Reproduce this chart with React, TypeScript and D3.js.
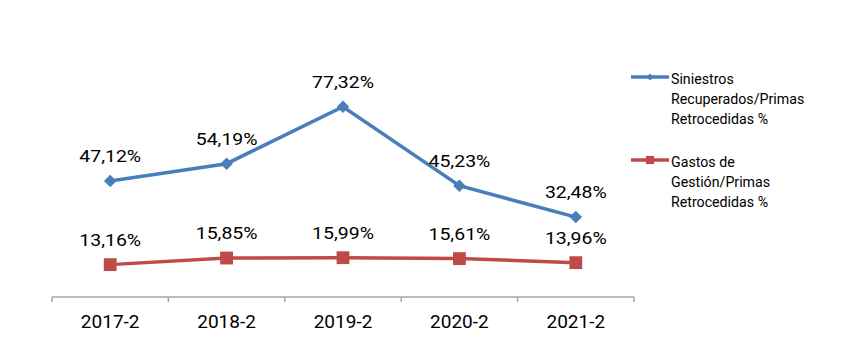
import React, { useRef, useEffect } from 'react';
import * as d3 from 'd3';

const categories = ['2017-2', '2018-2', '2019-2', '2020-2', '2021-2'];
const siniestros = [47.12, 54.19, 77.32, 45.23, 32.48];
const gastos = [13.16, 15.85, 15.99, 15.61, 13.96];
const seriesNames = [
  ['Siniestros', 'Recuperados/Primas', 'Retrocedidas %'],
  ['Gastos de', 'Gestión/Primas', 'Retrocedidas %'],
];
const colors = ['#4a7ebb', '#be4b48'];

const fmt = (v: number) => v.toFixed(2).replace('.', ',') + '%';

export default function App() {
  const svgRef = useRef<SVGSVGElement>(null);

  useEffect(() => {
    const width = 866;
    const height = 364;
    const svg = d3.select(svgRef.current)
      .attr('width', width)
      .attr('height', height)
      .style('font-family', 'Roboto, sans-serif');
    svg.selectAll('*').remove();

    const x = d3.scaleBand().domain(categories).range([52, 634]);
    const y = d3.scaleLinear().domain([0, 100]).range([297, 51]);
    const cx = (i: number) => x(categories[i])! + x.bandwidth() / 2;

    // axis
    const axis = svg.append('g');
    axis.append('line')
      .attr('x1', 52).attr('x2', 634)
      .attr('y1', y(0)).attr('y2', y(0))
      .attr('stroke', '#a6a6a6').attr('stroke-width', 1.5);
    const bounds = categories.map(c => x(c)!).concat([x(categories[4])! + x.bandwidth()]);
    axis.selectAll('line.tick').data(bounds).enter().append('line')
      .attr('class', 'tick')
      .attr('x1', d => d).attr('x2', d => d)
      .attr('y1', y(0)).attr('y2', y(0) + 5)
      .attr('stroke', '#a6a6a6').attr('stroke-width', 1.5);
    axis.selectAll('text').data(categories).enter().append('text')
      .attr('x', d => x(d)! + x.bandwidth() / 2)
      .attr('y', 328)
      .attr('text-anchor', 'middle')
      .style('font-size', '19px')
      .attr('fill', '#000')
      .text(d => d);

    const line = d3.line<number>()
      .x((_, i) => cx(i))
      .y(d => y(d));

    [siniestros, gastos].forEach((data, si) => {
      const g = svg.append('g');
      g.append('path')
        .attr('d', line(data)!)
        .attr('fill', 'none')
        .attr('stroke', colors[si])
        .attr('stroke-width', 3.5);
      const sym = d3.symbol()
        .type(si === 0 ? d3.symbolDiamond2 : d3.symbolSquare2)
        .size(si === 0 ? 100 : 210);
      g.selectAll('path.m').data(data).enter().append('path')
        .attr('class', 'm')
        .attr('transform', (d, i) => `translate(${cx(i)},${y(d)})`)
        .attr('d', sym()!)
        .attr('fill', colors[si]);
      g.selectAll('text').data(data).enter().append('text')
        .attr('transform', (d, i) => `translate(${cx(i)},${y(d) - (si === 0 ? 19 : 19)}) scale(1.18,1)`)
        .attr('text-anchor', 'middle')
        .style('font-size', '16.5px')
        .attr('fill', '#000')
        .text(d => fmt(d));
    });

    // legend
    const legendY = [77, 160];
    seriesNames.forEach((lines, si) => {
      const lg = svg.append('g').attr('transform', `translate(631, ${legendY[si]})`);
      lg.append('line')
        .attr('x1', 0).attr('x2', 38).attr('y1', 0).attr('y2', 0)
        .attr('stroke', colors[si]).attr('stroke-width', 3.5);
      const sym = d3.symbol()
        .type(si === 0 ? d3.symbolDiamond2 : d3.symbolSquare2)
        .size(si === 0 ? 32 : 85);
      lg.append('path')
        .attr('transform', 'translate(19,0)')
        .attr('d', sym()!)
        .attr('fill', colors[si]);
      lg.selectAll('text').data(lines).enter().append('text')
        .attr('x', 40)
        .attr('y', (_, i) => 7 + i * 20)
        .style('font-size', '14.2px')
        .attr('fill', '#000')
        .text(d => d);
    });
  }, []);

  return <svg ref={svgRef} style={{ position: 'absolute', left: 0, top: 0 }}></svg>;
}
